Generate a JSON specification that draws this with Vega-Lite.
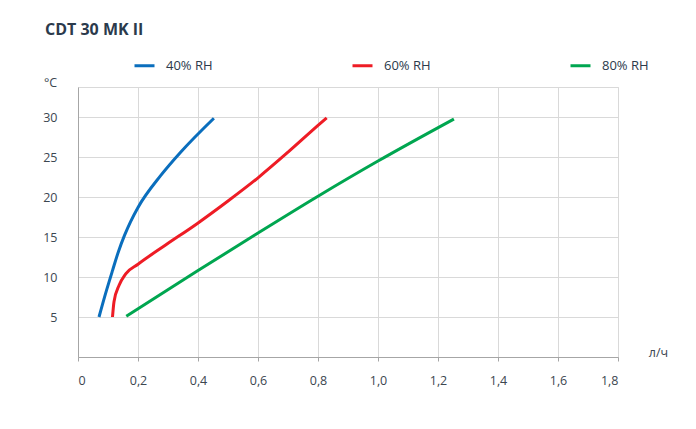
{
  "$schema": "https://vega.github.io/schema/vega-lite/v6.json",
  "width": 540,
  "height": 270,
  "autosize": {"type": "none"},
  "padding": {"left": 78, "top": 87, "right": 78, "bottom": 72},
  "background": "#ffffff",
  "title": {
    "text": "CDT 30 MK II",
    "anchor": "start",
    "frame": "group",
    "font": "Open Sans",
    "fontSize": 16,
    "fontWeight": "bold",
    "color": "#2b3a4c",
    "dx": -33,
    "offset": 16
  },
  "config": {
    "font": "Open Sans",
    "view": {"stroke": "#d9d9d9", "strokeWidth": 1},
    "axis": {
      "gridColor": "#d9d9d9",
      "gridWidth": 1,
      "domainColor": "#a6a6a6",
      "tickColor": "#a6a6a6",
      "labelFont": "Open Sans",
      "labelFontSize": 12.5,
      "labelColor": "#3c4650",
      "titleFont": "Open Sans",
      "titleFontSize": 12.5,
      "titleFontWeight": "normal",
      "titleColor": "#3c4650"
    }
  },
  "data": {
    "values": [
      {"rh": "40% RH", "flow": 0.07, "temp": 5},
      {"rh": "40% RH", "flow": 0.094, "temp": 8.2},
      {"rh": "40% RH", "flow": 0.115, "temp": 10.8},
      {"rh": "40% RH", "flow": 0.135, "temp": 13.2},
      {"rh": "40% RH", "flow": 0.155, "temp": 15.2},
      {"rh": "40% RH", "flow": 0.175, "temp": 16.9},
      {"rh": "40% RH", "flow": 0.2, "temp": 18.7},
      {"rh": "40% RH", "flow": 0.276, "temp": 22.7},
      {"rh": "40% RH", "flow": 0.342, "temp": 25.6},
      {"rh": "40% RH", "flow": 0.453, "temp": 29.85},
      {"rh": "60% RH", "flow": 0.115, "temp": 5},
      {"rh": "60% RH", "flow": 0.12, "temp": 6.9},
      {"rh": "60% RH", "flow": 0.137, "temp": 8.96},
      {"rh": "60% RH", "flow": 0.159, "temp": 10.4},
      {"rh": "60% RH", "flow": 0.2, "temp": 11.6},
      {"rh": "60% RH", "flow": 0.292, "temp": 14},
      {"rh": "60% RH", "flow": 0.398, "temp": 16.7},
      {"rh": "60% RH", "flow": 0.5, "temp": 19.5},
      {"rh": "60% RH", "flow": 0.6, "temp": 22.4},
      {"rh": "60% RH", "flow": 0.7, "temp": 25.6},
      {"rh": "60% RH", "flow": 0.8, "temp": 28.95},
      {"rh": "60% RH", "flow": 0.829, "temp": 29.9},
      {"rh": "80% RH", "flow": 0.161, "temp": 5.1},
      {"rh": "80% RH", "flow": 0.4, "temp": 10.8},
      {"rh": "80% RH", "flow": 0.6, "temp": 15.5},
      {"rh": "80% RH", "flow": 0.8, "temp": 20.1},
      {"rh": "80% RH", "flow": 1.0, "temp": 24.5},
      {"rh": "80% RH", "flow": 1.253, "temp": 29.75}
    ]
  },
  "mark": {"type": "line", "interpolate": "monotone", "strokeWidth": 3, "strokeCap": "butt"},
  "encoding": {
    "x": {
      "field": "flow",
      "type": "quantitative",
      "scale": {"domain": [0, 1.8], "nice": false},
      "axis": {
        "values": [0, 0.2, 0.4, 0.6, 0.8, 1.0, 1.2, 1.4, 1.6, 1.8],
        "labelExpr": "datum.value == 0 ? '0' : replace(format(datum.value, '.1f'), '.', ',')",
        "tickSize": 4,
        "labelPadding": 13,
        "title": "л/ч",
        "titleX": 580,
        "titleY": -5,
        "titleAlign": "center",
        "titleBaseline": "middle"
      }
    },
    "y": {
      "field": "temp",
      "type": "quantitative",
      "scale": {"domain": [0, 33.75], "nice": false},
      "axis": {
        "values": [5, 10, 15, 20, 25, 30],
        "ticks": false,
        "labelPadding": 21,
        "title": "°C",
        "titleAngle": 0,
        "titleX": -28,
        "titleY": -5,
        "titleAlign": "center",
        "titleBaseline": "middle"
      }
    },
    "color": {
      "field": "rh",
      "type": "nominal",
      "scale": {
        "domain": ["40% RH", "60% RH", "80% RH"],
        "range": ["#0a6ebd", "#ee1c25", "#00a650"]
      },
      "legend": {
        "title": null,
        "orient": "none",
        "direction": "horizontal",
        "columns": 3,
        "legendX": 55,
        "legendY": -33,
        "symbolType": "stroke",
        "symbolSize": 400,
        "symbolStrokeWidth": 3,
        "labelOffset": 10,
        "labelFont": "Open Sans",
        "labelFontSize": 13,
        "labelColor": "#2b3a4c",
        "columnPadding": 133
      }
    }
  }
}
